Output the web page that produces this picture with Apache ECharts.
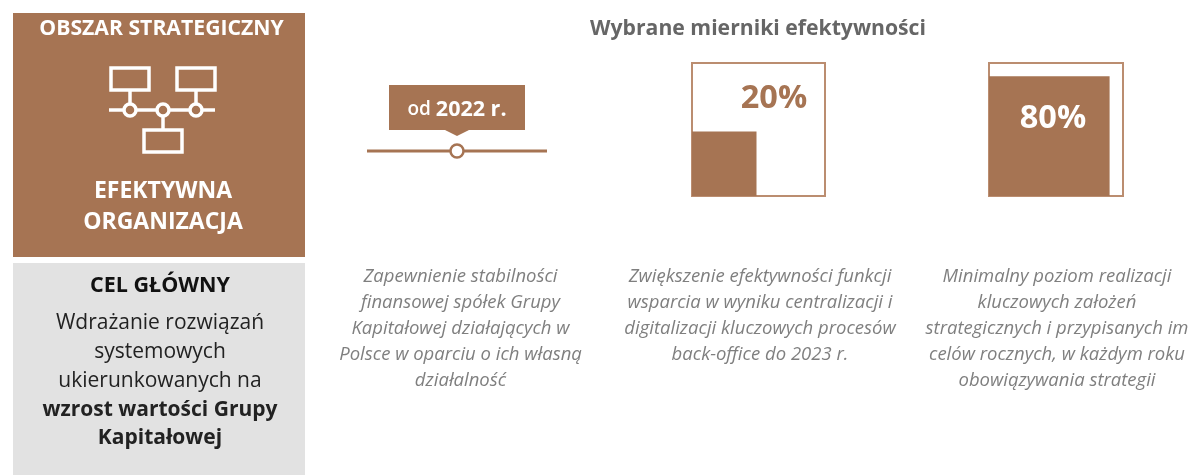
<!DOCTYPE html>
<html><head><meta charset="utf-8">
<style>html,body{margin:0;padding:0;background:#fff}#c{width:1190px;height:475px}</style>
<script src="https://cdn.jsdelivr.net/npm/echarts@6/dist/echarts.min.js"></script>
</head><body><div id="c"></div>
<script>
const BROWN = '#a67453', GRAY = '#e2e2e2', TXT = '#7f7f7f';
const font = '"Open Sans", sans-serif';

const title = 'Wybrane mierniki efektywności';
const areaHeader = 'OBSZAR STRATEGICZNY';
const areaName = ['EFEKTYWNA', 'ORGANIZACJA'];
const goalHeader = 'CEL GŁÓWNY';
const goalPlain = ['Wdrażanie rozwiązań', 'systemowych', 'ukierunkowanych na'];
const goalBold = ['wzrost wartości Grupy', 'Kapitałowej'];
const timelineYears = [2020, 2022, 2024];
const timelineMark = 2022;
const shareLabels = ['20%', '80%'];
const shareFillSides = [48.5, 90];
const desc1 = ['Zapewnienie stabilności', 'finansowej spółek Grupy', 'Kapitałowej działających w', 'Polsce w oparciu o ich własną', 'działalność'];
const desc2 = ['Zwiększenie efektywności funkcji', 'wsparcia w wyniku centralizacji i', 'digitalizacji kluczowych procesów', 'back-office do 2023 r.'];
const desc3 = ['Minimalny poziom realizacji', 'kluczowych założeń', 'strategicznych i przypisanych im', 'celów rocznych, w każdym roku', 'obowiązywania strategii'];

function t(text, x, y, size, fill, weight, style, align) {
  return {type:'text', z:20, x, y, style:{text, fill, font:`${style||'normal'} ${weight||400} ${size}px ${font}`, align:align||'center', verticalAlign:'middle'}};
}
function lines(arr, x, y0, step, size, fill, weight, style) {
  return arr.map((s,i)=>t(s, x, y0+i*step, size, fill, weight, style));
}
const ico = {stroke:'#fff', fill:'none', lineWidth:3.5};
function box(x,y,w,h){return {type:'rect', z:20, shape:{x,y,width:w,height:h}, style:ico};}
function seg(x1,y1,x2,y2){return {type:'line', z:20, shape:{x1,y1,x2,y2}, style:{stroke:'#fff', lineWidth:3.5}};}
function ring(cx,cy){return {type:'circle', z:21, shape:{cx,cy,r:6}, style:{stroke:'#fff', fill:BROWN, lineWidth:3.5}};}

const graphic = [
  {type:'rect', z:1, shape:{x:13,y:13,width:292,height:244}, style:{fill:BROWN}},
  {type:'rect', z:1, shape:{x:13,y:263,width:292,height:212}, style:{fill:GRAY}},
  t(areaHeader,161.5,29,21.2,'#fff',700),
  ...lines(areaName,163,191,31,23,'#fff',700),
  box(111,68,38,22), box(177,68,38,22), box(144,130,38,22),
  seg(109,110,215,110), seg(130,90,130,110), seg(196,90,196,110), seg(163,110,163,130),
  ring(130,110), ring(163,110), ring(196,110),
  t(goalHeader,160,286,21.5,'#111',700),
  ...lines(goalPlain,160,323,29,21,'#222',400),
  ...lines(goalBold,160,410,28.5,21,'#222',700),
  t(title,758,29,21.2,'#666',700),
  {type:'polygon', z:5, shape:{points:[[389,85],[525,85],[525,130],[469,130],[457,136],[445,130],[389,130]]}, style:{fill:BROWN}},
  {type:'text', z:20, x:457, y:109.5, style:{text:'{a|od }{b|'+timelineMark+' r.}', align:'center', verticalAlign:'middle', rich:{a:{fill:'#fff',font:`600 19px ${font}`}, b:{fill:'#fff',font:`700 21.5px ${font}`}}}},
  t(shareLabels[0],774,98.5,32.5,BROWN,700),
  t(shareLabels[1],1053,119,32.5,'#fff',700),
  ...lines(desc1,460.5,276.5,26,18.5,TXT,400,'italic'),
  ...lines(desc2,760,276.5,26,18.5,TXT,400,'italic'),
  ...lines(desc3,1057,276.5,26,18.5,TXT,400,'italic')
];

function squareItem(params, api) {
  const side = api.value(0);
  const a = api.coord([0,0]), b = api.coord([side,side]);
  return {type:'rect', shape:{x:a[0],y:b[1],width:b[0]-a[0],height:a[1]-b[1]}, style:{fill:BROWN}};
}
const squareGrids = [{left:692,top:63,width:133,height:133},{left:989,top:63,width:134,height:133}];
const hidden = {min:0,max:100,show:false};

const chart = echarts.init(document.getElementById('c'), null, {renderer:'canvas'});
chart.setOption({
  animation:false,
  backgroundColor:'#fff',
  grid:[{left:367,top:141,width:180,height:20}, ...squareGrids.map(g=>({...g, show:true, borderColor:'#bb8d70', borderWidth:2, backgroundColor:'transparent'}))],
  xAxis:[{gridIndex:0,type:'value',min:timelineYears[0],max:timelineYears[2],show:false},{gridIndex:1,type:'value',...hidden},{gridIndex:2,type:'value',...hidden}],
  yAxis:[{gridIndex:0,type:'value',min:-1,max:1,show:false},{gridIndex:1,type:'value',...hidden},{gridIndex:2,type:'value',...hidden}],
  series:[
    {type:'line',xAxisIndex:0,yAxisIndex:0,silent:true,z:3,
     data:timelineYears.map(y=>({value:[y,0],symbol:y===timelineMark?'circle':'none',symbolSize:13})),
     lineStyle:{color:BROWN,width:3},showSymbol:true,
     itemStyle:{color:'#fff',borderColor:BROWN,borderWidth:2.5}},
    {type:'custom',xAxisIndex:1,yAxisIndex:1,silent:true,renderItem:squareItem,data:[[shareFillSides[0]]],encode:{x:0,y:0}},
    {type:'custom',xAxisIndex:2,yAxisIndex:2,silent:true,renderItem:squareItem,data:[[shareFillSides[1]]],encode:{x:0,y:0}}
  ],
  graphic:{elements:graphic}
});
</script></body></html>
